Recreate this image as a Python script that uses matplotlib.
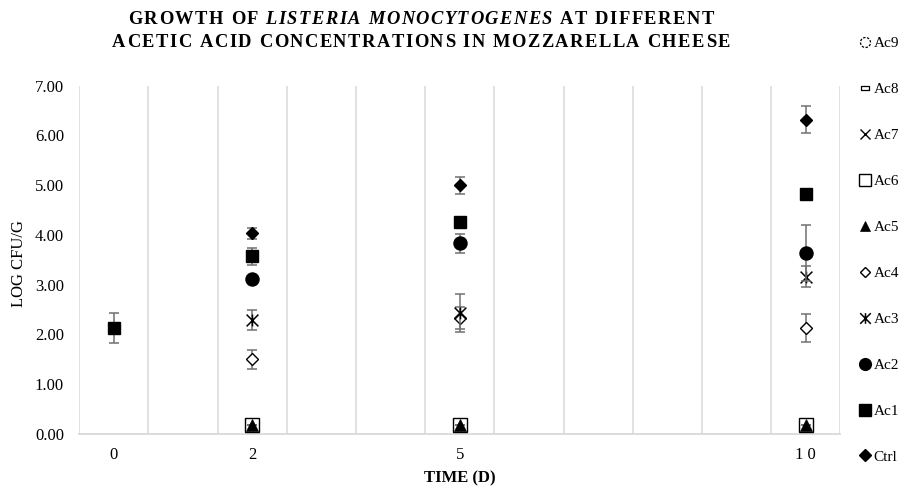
import numpy as np
import matplotlib
matplotlib.use('Agg')
import matplotlib.pyplot as plt
from matplotlib.path import Path
from matplotlib import font_manager
from matplotlib.ft2font import FT2Font

plt.rcParams['font.family'] = 'Liberation Serif'

nan = float('nan')

# days sampled (category index on the x axis = day number)
days = [0, 2, 5, 10]
dayLabels = ['0', '2', '5', '1 0']

series = ['Ac9', 'Ac8', 'Ac7', 'Ac6', 'Ac5', 'Ac4', 'Ac3', 'Ac2', 'Ac1', 'Ctrl']

ac9 = [nan, nan, nan, nan]
ac8 = [nan, nan, nan, nan]
ac7 = [nan, nan, nan, nan]
ac6 = [nan, 0.19, 0.19, 0.19]
ac5 = [nan, 0.19, 0.19, 0.19]
ac4 = [nan, 1.50, 2.33, 2.13]
ac3 = [nan, 2.29, 2.44, 3.16]
ac2 = [nan, 3.12, 3.83, 3.64]
ac1 = [2.13, 3.57, 4.27, 4.82]
ctrl = [nan, 4.03, 5.00, 6.32]

ac9Err = [nan, nan, nan, nan]
ac8Err = [nan, nan, nan, nan]
ac7Err = [nan, nan, nan, nan]
ac6Err = [nan, 0.0, 0.0, 0.0]
ac5Err = [nan, 0.0, 0.0, 0.0]
ac4Err = [nan, 0.19, 0.22, 0.28]
ac3Err = [nan, 0.20, 0.38, 0.21]
ac2Err = [nan, 0.04, 0.19, 0.57]
ac1Err = [0.30, 0.17, 0.04, 0.04]
ctrlErr = [nan, 0.12, 0.17, 0.27]

values = [ac9, ac8, ac7, ac6, ac5, ac4, ac3, ac2, ac1, ctrl]
errors = [ac9Err, ac8Err, ac7Err, ac6Err, ac5Err, ac4Err, ac3Err, ac2Err, ac1Err, ctrlErr]

titleLine1 = [('GROWTH OF ', False), ('LISTERIA MONOCYTOGENES', True), (' AT DIFFERENT', False)]
titleLine2 = [('ACETIC ACID CONCENTRATIONS IN MOZZARELLA CHEESE', False)]

# custom excel-like markers
asterisk = Path([(-0.5, -0.5), (0.5, 0.5), (-0.5, 0.5), (0.5, -0.5), (0, -0.5), (0, 0.5)],
                [Path.MOVETO, Path.LINETO, Path.MOVETO, Path.LINETO, Path.MOVETO, Path.LINETO])
dash = Path([(-0.5, -0.22), (0.5, -0.22), (0.5, 0.22), (-0.5, 0.22), (-0.5, -0.22)],
            [Path.MOVETO, Path.LINETO, Path.LINETO, Path.LINETO, Path.CLOSEPOLY])
verts, codes = [], []
for a0 in np.arange(0, 360, 45):
    t = np.radians(np.linspace(a0, a0 + 28, 6))
    verts += [(0.5 * np.cos(a), 0.5 * np.sin(a)) for a in t]
    codes += [Path.MOVETO] + [Path.LINETO] * 5
dotted = Path(verts, codes)

styles = {'Ac9': dict(marker = dotted, ms = 8, mfc = 'none', mec = 'black', mew = 0.9),
          'Ac8': dict(marker = dash, ms = 7, mfc = 'white', mec = 'black', mew = 0.9),
          'Ac7': dict(marker = 'x', ms = 8, mec = 'black', mew = 1.0),
          'Ac6': dict(marker = 's', ms = 9.4, mfc = 'white', mec = 'black', mew = 1.0),
          'Ac5': dict(marker = '^', ms = 8.4, mfc = 'black', mec = 'black', mew = 0.5),
          'Ac4': dict(marker = 'D', ms = 6.2, mfc = 'white', mec = 'black', mew = 1.0),
          'Ac3': dict(marker = asterisk, ms = 8.5, mec = 'black', mew = 1.1),
          'Ac2': dict(marker = 'o', ms = 9.4, mfc = 'black', mec = 'black'),
          'Ac1': dict(marker = 's', ms = 9.2, mfc = 'black', mec = 'black'),
          'Ctrl': dict(marker = 'D', ms = 6.6, mfc = 'black', mec = 'black')}

W, H = 922, 487
fig = plt.figure(figsize = (W / 100, H / 100), dpi = 100)
ax = fig.add_axes([0.086, 0.1088, 0.8254, 0.7152])

for i, (s, v, e) in enumerate(zip(series, values, errors)):
    ax.errorbar(days, v, yerr = e, fmt = 'none', ecolor = '#707070', elinewidth = 1.1,
                capsize = 3.6, capthick = 1.1, zorder = 3 + 2 * i)
    ax.plot(days, v, linestyle = 'none', label = s, zorder = 4 + 2 * i, **styles[s])

ax.set_xlim(-0.5, 10.5)
ax.set_ylim(0, 7)
ax.set_xticks(days)
ax.set_xticklabels(dayLabels)
ax.set_yticks(range(8))
ax.set_yticklabels(['%.2f' % t for t in range(8)])
ax.tick_params(axis = 'both', length = 0, labelsize = 12)
ax.tick_params(axis = 'x', pad = 9)
ax.tick_params(axis = 'y', pad = 11)

# vertical gridlines between categories
for g in np.arange(-0.5, 11, 1.0):
    ax.axvline(g, color = '#d9d9d9', lw = 1.1, zorder = 1)
for sp in ['top', 'right', 'left']:
    ax.spines[sp].set_visible(False)
ax.spines['bottom'].set_color('#d9d9d9')
ax.spines['bottom'].set_linewidth(1.3)

ax.set_xlabel('TIME (D)', fontsize = 12, fontweight = 'bold')
ax.xaxis.set_label_coords(0.5, -0.126)
ax.xaxis.label.set_va('center')
ax.set_ylabel('LOG CFU/G', fontsize = 12)
ax.yaxis.set_label_coords(-0.079, 0.49)
ax.yaxis.label.set_va('center')


def spacedLine(cx, y, parts, size, extra):
    '''
    draws one line of bold text with extra letter spacing (in pixels)

    :param cx:     horizontal centre in pixels
    :param y:      baseline in figure fraction
    :param parts:  list of (text, italic) pieces
    '''
    glyphs = []
    for txt, italic in parts:
        fp = font_manager.FontProperties(family = 'Liberation Serif', weight = 'bold',
                                         style = 'italic' if italic else 'normal', size = size)
        font = FT2Font(font_manager.findfont(fp))
        font.set_size(size, fig.dpi)
        for ch in txt:
            glyphs.append((ch, fp, font.load_char(ord(ch)).linearHoriAdvance / 65536))

    total = sum(g[2] for g in glyphs) + extra * (len(glyphs) - 1)
    x = cx - total / 2
    for ch, fp, adv in glyphs:
        if ch != ' ':
            fig.text(x / W, y, ch, fontproperties = fp, ha = 'left', va = 'baseline')
        x += adv + extra


spacedLine(421, 1 - 24 / H, titleLine1, 13.3, 1.5)
spacedLine(421, 1 - 47 / H, titleLine2, 13.3, 1.5)

leg = ax.legend(loc = 'upper left', bbox_to_anchor = (0.932, 0.9246), bbox_transform = fig.transFigure,
                frameon = False, fontsize = 11, handlelength = 0.8, handletextpad = 0.15,
                labelspacing = 2.11, borderpad = 0, borderaxespad = 0, markerscale = 0.9)

fig.savefig('out.png', dpi = 100)
